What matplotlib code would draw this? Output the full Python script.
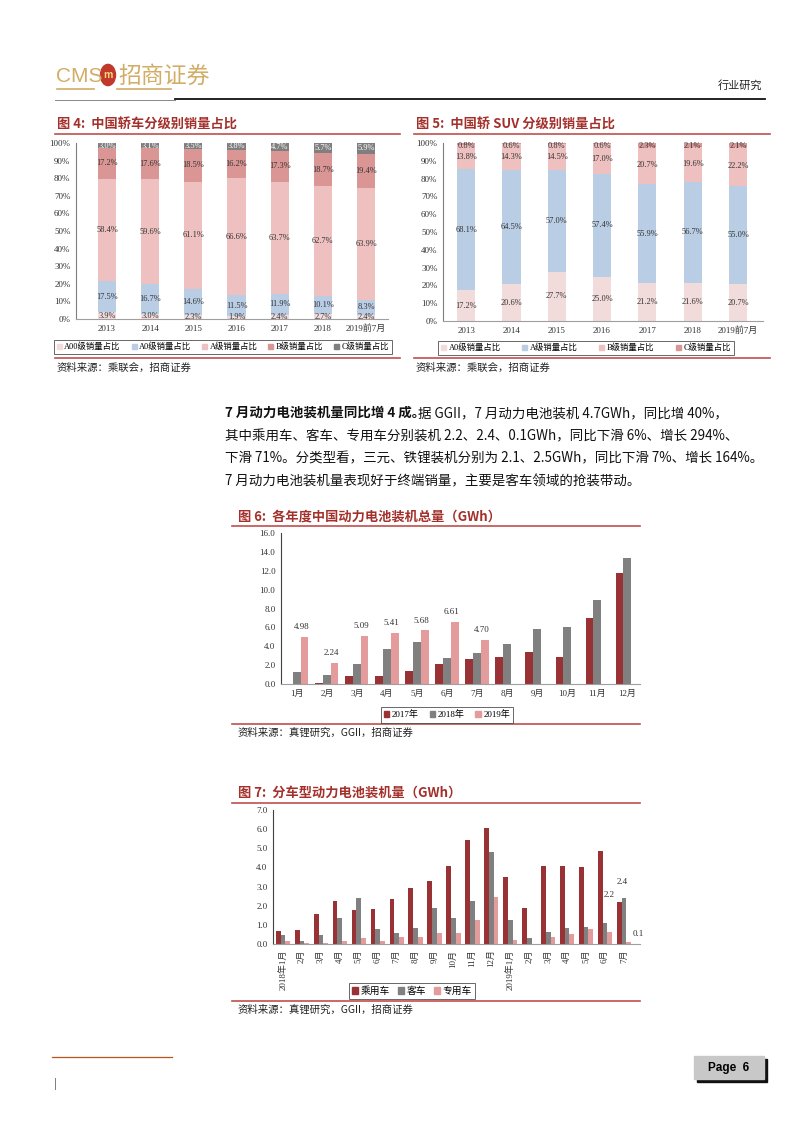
import matplotlib
matplotlib.use("Agg")
import matplotlib.pyplot as plt
import numpy as np
from matplotlib.lines import Line2D
from matplotlib.patches import Rectangle, Circle, Patch

plt.rcParams['font.family'] = ['Noto Sans CJK SC', 'DejaVu Sans']

# data: chart 4 (sedan share by class)
years = ['2013', '2014', '2015', '2016', '2017', '2018', '2019前7月']
sedan_names = ['A00级销量占比', 'A0级销量占比', 'A级销量占比', 'B级销量占比', 'C级销量占比']
sedan_a00 = [3.9, 3.0, 2.3, 1.9, 2.4, 2.7, 2.4]
sedan_a0 = [17.5, 16.7, 14.6, 11.5, 11.9, 10.1, 8.3]
sedan_a = [58.4, 59.6, 61.1, 66.6, 63.7, 62.7, 63.9]
sedan_b = [17.2, 17.6, 18.5, 16.2, 17.3, 18.7, 19.4]
sedan_c = [3.0, 3.1, 3.5, 3.8, 4.7, 5.7, 5.9]

# chart 5 (SUV share by class)
suv_names = ['A0级销量占比', 'A级销量占比', 'B级销量占比', 'C级销量占比']
suv_a0 = [17.2, 20.6, 27.7, 25.0, 21.2, 21.6, 20.7]
suv_a = [68.1, 64.5, 57.0, 57.4, 55.9, 56.7, 55.0]
suv_b = [13.8, 14.3, 14.5, 17.0, 20.7, 19.6, 22.2]
suv_c = [0.8, 0.6, 0.8, 0.6, 2.3, 2.1, 2.1]

# chart 6 (monthly battery installs, GWh)
months = ['1月', '2月', '3月', '4月', '5月', '6月', '7月', '8月', '9月', '10月', '11月', '12月']
inst_2017 = [0.0, 0.15, 0.9, 0.9, 1.4, 2.1, 2.6, 2.9, 3.4, 2.9, 7.0, 11.8]
inst_2018 = [1.3, 1.0, 2.1, 3.7, 4.5, 2.8, 3.3, 4.2, 5.8, 6.0, 8.9, 13.3]
inst_2019 = [4.98, 2.24, 5.09, 5.41, 5.68, 6.61, 4.70]

# chart 7 (installs by vehicle type, GWh)
ym = ['2018年1月', '2月', '3月', '4月', '5月', '6月', '7月', '8月', '9月', '10月', '11月', '12月',
      '2019年1月', '2月', '3月', '4月', '5月', '6月', '7月']
car = [0.7, 0.75, 1.55, 2.25, 1.8, 1.85, 2.35, 2.95, 3.3, 4.05, 5.45, 6.05, 3.5, 1.9, 4.1, 4.05, 4.0, 4.85, 2.2]
bus = [0.45, 0.15, 0.45, 1.35, 2.4, 0.8, 0.6, 0.85, 1.9, 1.35, 2.25, 4.8, 1.25, 0.3, 0.65, 0.85, 0.9, 1.1, 2.4]
special = [0.15, 0.05, 0.05, 0.15, 0.3, 0.15, 0.35, 0.35, 0.55, 0.6, 1.25, 2.45, 0.2, 0.0, 0.35, 0.5, 0.8, 0.65, 0.1]

W, H = 802, 1133
fig = plt.figure(figsize=(W / 100, H / 100), dpi=100)

TITLE_C = '#a3302b'
LINE_C = '#c0504d'
NUM = ['Liberation Serif', 'Noto Sans CJK SC']


def fx(x):
    return x / W


def fy(y):
    return 1 - y / H


def ax_px(x0, y0, x1, y1):
    return fig.add_axes([fx(x0), fy(y1), (x1 - x0) / W, (y1 - y0) / H])


def hline(x0, x1, y, color, lw):
    fig.add_artist(Line2D([fx(x0), fx(x1)], [fy(y), fy(y)], color=color, lw=lw, transform=fig.transFigure))


def style_ax(ax, fs=6.5):
    for s in ['top', 'right']:
        ax.spines[s].set_visible(False)
    ax.spines['left'].set_color('#7f7f7f')
    ax.spines['bottom'].set_color('#9f9f9f')
    ax.spines['left'].set_linewidth(0.8)
    ax.spines['bottom'].set_linewidth(0.8)
    ax.tick_params(length=0, labelsize=fs, colors='#333333', pad=4)
    for t in ax.get_xticklabels() + ax.get_yticklabels():
        t.set_family(NUM)


def legend_box(handles, labels, cx, cy, fs=6, cs=1.2):
    lg = fig.legend(handles, labels, loc='center', bbox_to_anchor=(fx(cx), fy(cy)), ncol=len(labels),
                    frameon=True, fancybox=False, edgecolor='#404040',
                    handlelength=0.6, handleheight=0.6, handletextpad=0.3, columnspacing=cs,
                    borderpad=0.35, prop={'family': NUM, 'size': fs})
    lg.get_frame().set_linewidth(0.7)
    return lg


# ---------------- header ----------------
gold = '#d1ad67'
fig.text(fx(56), fy(76), 'CMS', fontsize=15, color=gold, va='center', ha='left', family='Liberation Sans')
fig.add_artist(Circle((fx(108), fy(75)), 7.5 / W, transform=fig.transFigure, color='#c0392b'))
fig.text(fx(108), fy(75), 'm', fontsize=7, color='#f5d67a', va='center', ha='center', weight='bold', style='italic')
fig.text(fx(118), fy(76), '招商证券', fontsize=16.5, color=gold, va='center', ha='left')
hline(57, 94, 89, gold, 1.2)
hline(117, 171, 89, gold, 1.2)
fig.text(fx(762), fy(85), '行业研究', fontsize=8, color='#222222', va='center', ha='right')
hline(55, 175, 100, '#888888', 0.7)
hline(175, 765, 99, '#111111', 1.3)

# ---------------- chart 4 ----------------
fig.text(fx(57), fy(125), '图 4:  中国轿车分级别销量占比', fontsize=9.5, color=TITLE_C, weight='bold', va='center')
hline(55, 400, 134, LINE_C, 1.2)
ax4 = ax_px(76, 143, 388, 319)
x = np.arange(len(years))
cols4 = ['#f2dcdb', '#b9cde5', '#eec0c0', '#d99694', '#7f7f7f']
series4 = [sedan_a00, sedan_a0, sedan_a, sedan_b, sedan_c]
bottom = np.zeros(len(years))
for vals, c in zip(series4, cols4):
    v = np.array(vals) / 100
    ax4.bar(x, v, 0.42, bottom=bottom, color=c, lw=0)
    for xi, b, vi in zip(x, bottom, v):
        tc = 'white' if c == '#7f7f7f' else '#333333'
        ax4.text(xi, b + vi / 2, f'{vi * 100:.1f}%', ha='center', va='center', fontsize=6, color=tc, family=NUM)
    bottom += v
ax4.set_xlim(-0.72, 6.51)
ax4.set_ylim(0, 1)
ax4.set_yticks(np.arange(0, 1.01, 0.1))
ax4.set_yticklabels([f'{int(round(t * 100))}%' for t in np.arange(0, 1.01, 0.1)])
ax4.set_xticks(x)
ax4.set_xticklabels(years)
style_ax(ax4)
legend_box([Patch(color=c) for c in cols4], sedan_names, 223, 347, fs=6, cs=1.3)
hline(55, 400, 358, LINE_C, 1.2)
fig.text(fx(57), fy(368), '资料来源：乘联会，招商证券', fontsize=7.5, color='#222222', va='center')

# ---------------- chart 5 ----------------
fig.text(fx(416), fy(125), '图 5:  中国轿 SUV 分级别销量占比', fontsize=9.5, color=TITLE_C, weight='bold', va='center')
hline(414, 770, 134, LINE_C, 1.2)
ax5 = ax_px(443, 143, 763, 321)
cols5 = ['#f2dcdb', '#b9cde5', '#eec0c0', '#d99694']
series5 = [suv_a0, suv_a, suv_b, suv_c]
bottom = np.zeros(len(years))
for vals, c in zip(series5, cols5):
    v = np.array(vals) / 100
    ax5.bar(x, v, 0.4, bottom=bottom, color=c, lw=0)
    for xi, b, vi in zip(x, bottom, v):
        ax5.text(xi, min(b + vi / 2, 0.985), f'{vi * 100:.1f}%', ha='center', va='center', fontsize=6,
                 color='#333333', family=NUM)
    bottom += v
ax5.set_xlim(-0.51, 6.55)
ax5.set_ylim(0, 1)
ax5.set_yticks(np.arange(0, 1.01, 0.1))
ax5.set_yticklabels([f'{int(round(t * 100))}%' for t in np.arange(0, 1.01, 0.1)])
ax5.set_xticks(x)
ax5.set_xticklabels(years)
style_ax(ax5)
legend_box([Patch(color=c) for c in cols5], suv_names, 586, 348, fs=6, cs=2.6)
hline(414, 770, 358, LINE_C, 1.2)
fig.text(fx(416), fy(368), '资料来源：乘联会，招商证券', fontsize=7.5, color='#222222', va='center')

# ---------------- paragraph ----------------
fig.text(fx(225), fy(413), '7 月动力电池装机量同比增 4 成。', fontsize=9.7, weight='bold', color='#111111', va='center')
fig.text(fx(418), fy(413), '据 GGII，7 月动力电池装机 4.7GWh，同比增 40%，', fontsize=9.7, color='#111111', va='center')
para = ['其中乘用车、客车、专用车分别装机 2.2、2.4、0.1GWh，同比下滑 6%、增长 294%、',
        '下滑 71%。分类型看，三元、铁锂装机分别为 2.1、2.5GWh，同比下滑 7%、增长 164%。',
        '7 月动力电池装机量表现好于终端销量，主要是客车领域的抢装带动。']
for i, line in enumerate(para):
    fig.text(fx(225), fy(436 + 22.7 * i), line, fontsize=9.7, color='#111111', va='center')

# ---------------- chart 6 ----------------
fig.text(fx(238), fy(516), '图 6:  各年度中国动力电池装机总量（GWh）', fontsize=9.5, color=TITLE_C, weight='bold', va='center')
hline(232, 640, 526, LINE_C, 1.2)
ax6 = ax_px(281, 533, 640, 684)
xm = np.arange(len(months))
c17, c18, c19 = '#983235', '#808080', '#e39b9c'
ax6.bar(xm - 0.26, inst_2017, 0.25, color=c17, lw=0)
ax6.bar(xm, inst_2018, 0.25, color=c18, lw=0)
x19 = xm[:len(inst_2019)] + 0.26
ax6.bar(x19, inst_2019, 0.25, color=c19, lw=0)
for xi, v in zip(x19, inst_2019):
    ax6.text(xi - 0.1, v + 0.6, f'{v:.2f}', ha='center', va='bottom', fontsize=6.5, color='#333333', family=NUM)
ax6.set_xlim(-0.53, 11.43)
ax6.set_ylim(0, 16)
ax6.set_yticks(np.arange(0, 16.1, 2))
ax6.set_yticklabels([f'{t:.1f}' for t in np.arange(0, 16.1, 2)])
ax6.set_xticks(xm)
ax6.set_xticklabels(months)
style_ax(ax6)
ax6.spines['left'].set_color('#404040')
legend_box([Patch(color=c) for c in [c17, c18, c19]], ['2017年', '2018年', '2019年'], 447, 715, fs=6.5, cs=1.2)
hline(232, 640, 724, LINE_C, 1.2)
fig.text(fx(238), fy(733), '资料来源：真锂研究，GGII，招商证券', fontsize=7.5, color='#222222', va='center')

# ---------------- chart 7 ----------------
fig.text(fx(238), fy(793), '图 7:  分车型动力电池装机量（GWh）', fontsize=9.5, color=TITLE_C, weight='bold', va='center')
hline(232, 640, 803, LINE_C, 1.2)
ax7 = ax_px(273, 810, 640, 944)
xy = np.arange(len(ym))
ax7.bar(xy - 0.25, car, 0.25, color=c17, lw=0)
ax7.bar(xy, bus, 0.25, color=c18, lw=0)
ax7.bar(xy + 0.25, special, 0.25, color=c19, lw=0)
last = len(ym) - 1
ax7.annotate(f'{car[last]:.1f}', (xy[last] - 0.25, car[last]), xytext=(-11, 2), textcoords='offset points',
             fontsize=6.5, color='#333333', family=NUM, va='bottom')
ax7.annotate(f'{bus[last]:.1f}', (xy[last], bus[last]), xytext=(-5, 9), textcoords='offset points',
             fontsize=6.5, color='#333333', family=NUM, va='bottom')
ax7.annotate(f'{special[last]:.1f}', (xy[last] + 0.25, special[last]), xytext=(3, 3), textcoords='offset points',
             fontsize=6.5, color='#333333', family=NUM, va='bottom')
ax7.set_xlim(-0.53, 18.85)
ax7.set_ylim(0, 7)
ax7.set_yticks(np.arange(0, 7.1, 1))
ax7.set_yticklabels([f'{t:.1f}' for t in np.arange(0, 7.1, 1)])
ax7.set_xticks(xy)
ax7.set_xticklabels(ym, rotation=90, va='top')
style_ax(ax7)
ax7.spines['left'].set_color('#404040')
legend_box([Patch(color=c) for c in [c17, c18, c19]], ['乘用车', '客车', '专用车'], 412, 991, fs=7, cs=0.8)
hline(232, 640, 1001, LINE_C, 1.2)
fig.text(fx(238), fy(1010), '资料来源：真锂研究，GGII，招商证券', fontsize=7.5, color='#222222', va='center')

# ---------------- footer ----------------
hline(52, 172, 1057, '#b8541f', 0.9)
fig.add_artist(Rectangle((fx(697), fy(1082)), 70 / W, 23 / H, transform=fig.transFigure, color='#111111'))
fig.add_artist(Rectangle((fx(694), fy(1079)), 70 / W, 23 / H, transform=fig.transFigure, color='#c8c8c8'))
fig.text(fx(729), fy(1068), 'Page  6', fontsize=8.5, weight='bold', ha='center', va='center', family='Liberation Sans')
fig.text(fx(55), fy(1084), '|', fontsize=7, color='#333333', ha='center', va='center')

fig.savefig('out.png', dpi=100)
